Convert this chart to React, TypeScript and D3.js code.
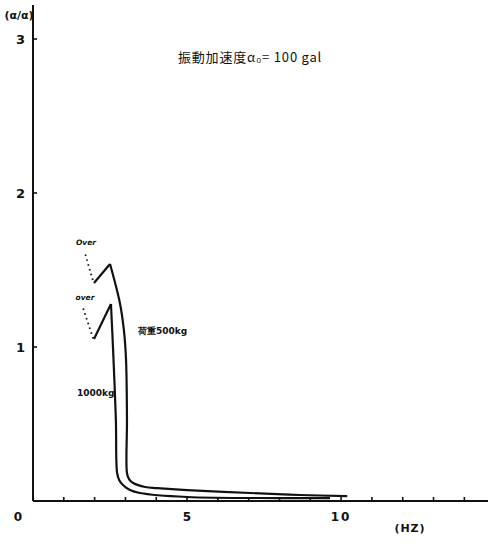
import * as d3 from "d3";

const width = 488;
const height = 544;

// frequency (Hz) vs ratio
const load500X = [1.98, 2.5, 2.82, 2.95, 3.02, 3.05, 3.05, 3.12, 3.25, 3.64, 4.03, 5.0, 7.05, 8.67, 10.2];
const load500Y = [1.416, 1.539, 1.286, 1.11, 0.916, 0.526, 0.182, 0.14, 0.117, 0.091, 0.084, 0.071, 0.052, 0.039, 0.032];
const load1000X = [1.98, 2.53, 2.6, 2.69, 2.73, 2.8, 2.92, 3.15, 3.47, 5.0, 8.02, 9.64];
const load1000Y = [1.052, 1.279, 0.98, 0.526, 0.182, 0.135, 0.104, 0.071, 0.052, 0.026, 0.019, 0.019];
// dotted "over" leaders
const overUpperX = [1.7, 1.96];
const overUpperY = [1.6, 1.42];
const overLowerX = [1.63, 1.96];
const overLowerY = [1.25, 1.05];

const xTicks = [1, 2, 3, 4, 5, 6, 7, 8, 9, 10, 11, 12, 13, 14];
const xLabels = [0, 5, 10];
const yTicks = [1, 2, 3];

const x = d3.scaleLinear().domain([0, 14.8]).range([33, 489]);
const y = d3.scaleLinear().domain([0, 3]).range([501, 39]);

const toPts = (xs: number[], ys: number[]) => xs.map((v, i) => [v, ys[i]] as [number, number]);

const straight = d3
  .line<[number, number]>()
  .x((d) => x(d[0]))
  .y((d) => y(d[1]));

const smooth = d3
  .line<[number, number]>()
  .x((d) => x(d[0]))
  .y((d) => y(d[1]))
  .curve(d3.curveCatmullRom);

const font = "'DejaVu Sans', sans-serif";

const App = () => {
  const p500 = toPts(load500X, load500Y);
  const p1000 = toPts(load1000X, load1000Y);

  return (
    <svg width={width} height={height} style={{ position: "absolute", left: 0, top: 0, background: "#fff" }}>
      <g stroke="#111" fill="none" strokeWidth={2.2}>
        <path d={straight(p500.slice(0, 2)) ?? ""} />
        <path d={smooth(p500.slice(1)) ?? ""} />
        <path d={straight(p1000.slice(0, 2)) ?? ""} />
        <path d={smooth(p1000.slice(1)) ?? ""} />
      </g>
      <g stroke="#111" fill="none" strokeWidth={1.8} strokeDasharray="1.5 3.5">
        <path d={straight(toPts(overUpperX, overUpperY)) ?? ""} />
        <path d={straight(toPts(overLowerX, overLowerY)) ?? ""} />
      </g>
      {/* axes */}
      <line x1={x(0)} x2={x(0)} y1={5} y2={y(0)} stroke="#111" strokeWidth={2} />
      <line x1={x(0)} x2={489} y1={y(0)} y2={y(0)} stroke="#111" strokeWidth={2.2} />
      {xTicks.map((t) => (
        <line key={t} x1={x(t)} x2={x(t)} y1={y(0)} y2={y(0) - 4} stroke="#111" strokeWidth={1.6} />
      ))}
      {yTicks.map((t) => (
        <line key={t} x1={x(0)} x2={x(0) + 4} y1={y(t)} y2={y(t)} stroke="#111" strokeWidth={1.6} />
      ))}
      <g fontFamily={font} fontWeight="bold" fill="#111">
        {xLabels.map((t) => (
          <text key={t} x={t === 0 ? 18 : x(t)} y={521} fontSize={12} textAnchor="middle" letterSpacing={t === 10 ? 2 : 0}>
            {t}
          </text>
        ))}
        {yTicks.map((t) => (
          <text key={t} x={x(0) - 8} y={y(t) + 5} fontSize={13} textAnchor="end">
            {t}
          </text>
        ))}
        <text x={410} y={532} fontSize={11} textAnchor="middle" letterSpacing={1}>(HZ)</text>
        <text x={19} y={19} fontSize={11} textAnchor="middle">(α/α)</text>
        <text x={86} y={245} fontSize={7.5} textAnchor="middle" fontStyle="italic">Over</text>
        <text x={85} y={300} fontSize={7.5} textAnchor="middle" fontStyle="italic">over</text>
        <text x={138} y={334} fontSize={9}>荷重500kg</text>
        <text x={77} y={396} fontSize={9}>1000kg</text>
      </g>
      <text x={178} y={62} fontFamily="'Noto Sans CJK JP', sans-serif" fontSize={13} fill="#111" letterSpacing={0.8}>
        振動加速度α₀= 100 gal
      </text>
    </svg>
  );
};

export default App;
